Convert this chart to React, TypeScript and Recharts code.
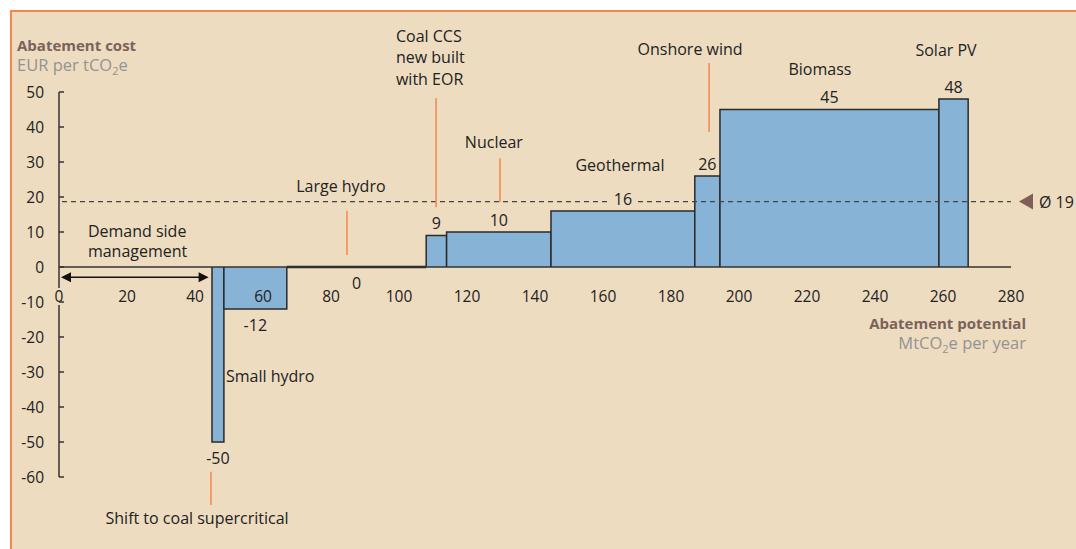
import { ComposedChart, Area, XAxis, YAxis, ReferenceLine, ReferenceDot } from "recharts";

// abatement levers, left to right (MtCO2e per year, EUR per tCO2e)
const leverNames = [
  "Shift to coal supercritical",
  "Small hydro",
  "Large hydro",
  "Coal CCS new built with EOR",
  "Nuclear",
  "Geothermal",
  "Onshore wind",
  "Biomass",
  "Solar PV",
];
const leverStart = [45, 48.5, 67, 108, 114, 144.7, 187, 194.4, 258.8];
const leverEnd = [48.5, 67, 108, 114, 144.7, 187, 194.4, 258.8, 267.4];
const leverCost = [-50, -12, 0, 9, 10, 16, 26, 45, 48];

const demandSideEnd = 44;
const avgCost = 18.7;
const avgLabel = "Ø 19";

const xTicks = [0, 20, 40, 60, 80, 100, 120, 140, 160, 180, 200, 220, 240, 260, 280];
const yTicks = [-60, -50, -40, -30, -20, -10, 0, 10, 20, 30, 40, 50];

const FONT = "'Open Sans', sans-serif";
const FS = 16;
const INK = "#222";
const ORANGE = "#f4874b";
const BAR = "#87b4d6";
const BG = "#eddcc0";

// where the lever names sit (data coords) and how they are anchored
const namePos: { lines: string[]; x: number; y: number; anchor: "start" | "middle" }[] = [
  { lines: ["Shift to coal supercritical"], x: 40.6, y: -73.5, anchor: "middle" },
  { lines: ["Small hydro"], x: 49.1, y: -32.8, anchor: "start" },
  { lines: ["Large hydro"], x: 82.9, y: 21.5, anchor: "middle" },
  { lines: ["Coal CCS", "new built", "with EOR"], x: 99.1, y: 64.3, anchor: "start" },
  { lines: ["Nuclear"], x: 127.9, y: 34, anchor: "middle" },
  { lines: ["Geothermal"], x: 165, y: 27.5, anchor: "middle" },
  { lines: ["Onshore wind"], x: 185.6, y: 60.6, anchor: "middle" },
  { lines: ["Biomass"], x: 223.8, y: 54.9, anchor: "middle" },
  { lines: ["Solar PV"], x: 260.9, y: 60.3, anchor: "middle" },
];

// orange leader lines: x, from y, to y
const leaders = [
  { x: 44.7, y1: -58.5, y2: -68 },
  { x: 84.7, y1: 16, y2: 3.4 },
  { x: 110.9, y1: 48.3, y2: 17.1 },
  { x: 129.7, y1: 31.1, y2: 18.6 },
  { x: 191.2, y1: 58.3, y2: 38.6 },
];

const txt = { fontFamily: FONT, fontSize: FS, fill: INK } as const;

function YTick(props: any) {
  const { x, y, payload } = props;
  return (
    <g>
      <line x1={x} x2={x + 5} y1={y} y2={y} stroke="#333" strokeWidth={1.5} />
      <text x={x - 15} y={y + 5.5} textAnchor="end" {...txt} fontSize={15.5}>
        {payload.value}
      </text>
    </g>
  );
}

export default function App() {
  return (
    <div style={{ position: "fixed", left: 0, top: 0, width: 1076, height: 549, overflow: "hidden", background: "#fff" }}>
      <div
        style={{
          position: "absolute",
          left: 10,
          top: 10,
          width: 1200,
          height: 700,
          background: BG,
          borderTop: `2px solid ${ORANGE}`,
          borderLeft: `2px solid ${ORANGE}`,
        }}
      />
      <div style={{ position: "absolute", left: 17, top: 35, fontFamily: FONT, lineHeight: "20px" }}>
        <div style={{ color: "#7b625b", fontWeight: 700, fontSize: 15 }}>Abatement cost</div>
        <div style={{ color: "#939393", fontSize: 16.5 }}>
          EUR per tCO<sub style={{ fontSize: 11 }}>2</sub>e
        </div>
      </div>
      <div
        style={{
          position: "absolute",
          right: 1076 - 1026,
          top: 313,
          textAlign: "right",
          fontFamily: FONT,
          lineHeight: "20px",
        }}
      >
        <div style={{ color: "#7b625b", fontWeight: 700, fontSize: 15 }}>Abatement potential</div>
        <div style={{ color: "#939393", fontSize: 16.5 }}>
          MtCO<sub style={{ fontSize: 11 }}>2</sub>e per year
        </div>
      </div>
      <div style={{ position: "absolute", left: 0, top: 0 }}>
        <ComposedChart width={1076} height={549} margin={{ top: 92, right: 65, bottom: 72, left: 0 }}>
          <XAxis type="number" dataKey="x" domain={[0, 280]} ticks={xTicks} hide allowDataOverflow />
          <YAxis
            type="number"
            domain={[-60, 50]}
            ticks={yTicks}
            width={59}
            tickSize={0}
            tickMargin={0}
            stroke="#333"
            strokeWidth={1.5}
            tick={<YTick />}
            interval={0}
          />
          <ReferenceLine y={0} stroke="#333" strokeWidth={1.5} />
          {leverNames.map((name, i) => (
            <Area
              key={name}
              data={[
                { x: leverStart[i], v: 0 },
                { x: leverStart[i], v: leverCost[i] },
                { x: leverEnd[i], v: leverCost[i] },
                { x: leverEnd[i], v: 0 },
              ]}
              dataKey="v"
              type="linear"
              baseValue={0}
              fill={BAR}
              fillOpacity={1}
              stroke="#2a2a2a"
              strokeWidth={leverCost[i] === 0 ? 2.5 : 1.5}
              dot={false}
              activeDot={false}
              isAnimationActive={false}
            />
          ))}
          <ReferenceLine
            ifOverflow="visible"
            segment={[
              { x: 0, y: avgCost },
              { x: 280, y: avgCost },
            ]}
            shape={(p: any) => (
              <g>
                <line x1={p.x1 + 3} x2={p.x2} y1={p.y1} y2={p.y2} stroke="#444" strokeWidth={1.2} strokeDasharray="5 4" />
                <polygon
                  points={`${p.x2 + 8},${p.y2} ${p.x2 + 22},${p.y2 - 8} ${p.x2 + 22},${p.y2 + 8}`}
                  fill="#7d5f55"
                />
                <text x={p.x2 + 28} y={p.y2 + 6} {...txt}>
                  {avgLabel}
                </text>
              </g>
            )}
          />
          <ReferenceLine
            ifOverflow="visible"
            segment={[
              { x: 0, y: -2.9 },
              { x: demandSideEnd, y: -2.9 },
            ]}
            shape={(p: any) => (
              <g>
                <line x1={p.x1 + 4} x2={p.x2 - 4} y1={p.y1} y2={p.y2} stroke="#111" strokeWidth={1.5} />
                <polygon points={`${p.x1 + 2},${p.y1} ${p.x1 + 12},${p.y1 - 5} ${p.x1 + 12},${p.y1 + 5}`} fill="#111" />
                <polygon points={`${p.x2},${p.y2} ${p.x2 - 10},${p.y2 - 5} ${p.x2 - 10},${p.y2 + 5}`} fill="#111" />
              </g>
            )}
          />
          {leaders.map((l, i) => (
            <ReferenceLine
              key={"ld" + i}
              ifOverflow="visible"
              segment={[
                { x: l.x, y: l.y1 },
                { x: l.x, y: l.y2 },
              ]}
              stroke={ORANGE}
              strokeWidth={1.5}
            />
          ))}
          {xTicks.map((t) => (
            <ReferenceDot
              key={"xt" + t}
              x={t}
              y={0}
              r={0}
              ifOverflow="visible"
              shape={(p: any) => (
                <g>
                  {t === 0 && <rect x={p.cx - 5} y={p.cy + 21} width={10} height={17} fill={BG} />}
                  <text x={p.cx} y={p.cy + 35} textAnchor="middle" {...txt} fontSize={15.5}>
                    {t}
                  </text>
                </g>
              )}
            />
          ))}
          {leverNames.map((name, i) => {
            const c = leverCost[i];
            const mid = (leverStart[i] + leverEnd[i]) / 2;
            return (
              <ReferenceDot
                key={"val" + name}
                x={mid}
                y={c}
                r={0}
                ifOverflow="visible"
                shape={(p: any) => (
                  <g>
                    {c === 16 && <rect x={p.cx - 15} y={p.cy - 23} width={30} height={19} fill={BG} />}
                    <text x={p.cx} y={c > 0 ? p.cy - 6.5 : p.cy + 21.5} textAnchor="middle" {...txt}>
                      {c}
                    </text>
                  </g>
                )}
              />
            );
          })}
          {namePos.map((n, i) => (
            <ReferenceDot
              key={"nm" + i}
              x={n.x}
              y={n.y}
              r={0}
              ifOverflow="visible"
              shape={(p: any) => (
                <text x={p.cx} y={p.cy} textAnchor={n.anchor} {...txt}>
                  {n.lines.map((ln, j) => (
                    <tspan key={j} x={p.cx} dy={j === 0 ? 0 : 21.5}>
                      {ln}
                    </tspan>
                  ))}
                </text>
              )}
            />
          ))}
          <ReferenceDot
            x={8.5}
            y={8.7}
            r={0}
            ifOverflow="visible"
            shape={(p: any) => (
              <text x={p.cx} y={p.cy} {...txt}>
                <tspan x={p.cx}>Demand side</tspan>
                <tspan x={p.cx} dy={20.5}>
                  management
                </tspan>
              </text>
            )}
          />
        </ComposedChart>
      </div>
    </div>
  );
}
